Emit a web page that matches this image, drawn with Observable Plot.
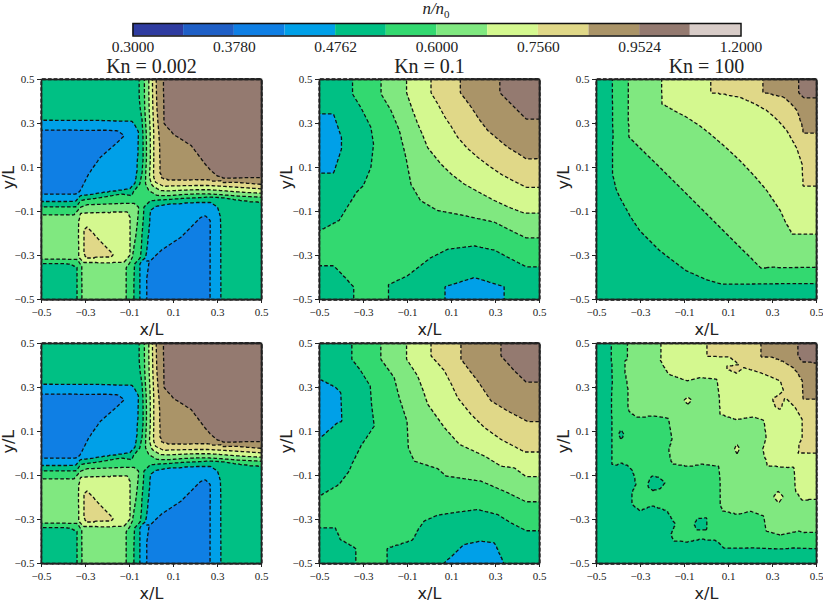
<!DOCTYPE html>
<html>
<head>
<meta charset="utf-8">
<script src="https://cdn.jsdelivr.net/npm/d3@7"></script>
<script src="https://cdn.jsdelivr.net/npm/@observablehq/plot@0.6"></script>
<style>
  body { margin: 0; background: white; }
  #page { position: relative; width: 823px; height: 602px; overflow: hidden; }
  #page svg { position: absolute; overflow: visible; background: none; }
  #cbtitle { position: absolute; left: 386px; width: 100px; top: 0; line-height: 18px; text-align: center;
    font: italic 17px/18px "Liberation Serif", serif; color: #222; z-index: 2; }
  #cbtitle sub { font-size: 11px; font-style: normal; line-height: 0; }
</style>
</head>
<body>
<div id="page"><div id="cbtitle">n/n<sub>0</sub></div></div>
<script>
// contour levels of n/n0 and the colour between each pair of them
const levels = [0.3, 0.3367, 0.378, 0.4243, 0.4762, 0.5345, 0.6, 0.6735, 0.756, 0.8485, 0.9524, 1.069, 1.2]
const bandColors = ['#2f3ca0', '#1f5fc6', '#0f7fe4', '#00a0e8', '#00c084', '#33d970', '#80e880', '#d4f88f', '#e0d888', '#aa9468', '#947a70', '#d8ccc8']
const cbTicks = [0.3, 0.378, 0.4762, 0.6, 0.756, 0.9524, 1.2]
const axisTicks = [-0.5, -0.3, -0.1, 0.1, 0.3, 0.5]

// values: each line is [n, x, y, x, y, ...]
const kn002 = [
  [0.51, -0.5, 0.5, -0.3, 0.42, -0.2, 0.42, -0.1, 0.42], [1.02, 0.5, 0.5, 0.3, 0.3, 0.5, 0.2, 0.15, 0.5, 0.2, 0.35, 0.4, 0.12],
  [0.5, -0.5, -0.5, -0.42, -0.42], [0.505, 0.5, -0.5, 0.4, -0.25, 0.4, -0.12],
  [0.41, -0.42, 0.14, -0.3, 0.2, -0.2, 0.24, 0.15, -0.4, 0.2, -0.3, 0.05, -0.42, -0.42, 0.05, -0.15, 0.24, 0.24, -0.15, -0.36, 0.01, 0, -0.33, 0.23, -0.2, 0.1, -0.27],
  [0.45, -0.09, 0.28, -0.1, 0.03, -0.34, -0.037, 0.02, -0.09, 0.275, -0.085, -0.04, -0.33],
  [0.64, -0.21, -0.5, -0.2, -0.42, -0.4, -0.2, -0.5, -0.2],
  [0.565, -0.042, -0.04],
  [0.4243, -0.5, 0.271, -0.44, 0.271, -0.38, 0.271, -0.32, 0.27, -0.26, 0.27, -0.2, 0.27, -0.156, 0.268, -0.123, 0.245, -0.171, 0.2, -0.232, 0.146, -0.285, 0.07, -0.323, -0.005, -0.338, -0.02, -0.38, -0.023, -0.44, -0.023, -0.5, -0.023],
  [0.4243, -0.024, -0.5, -0.024, -0.42, -0.024, -0.324, 0.041, -0.278, 0.132, -0.218, 0.18, -0.17, 0.223, -0.127, 0.245, -0.119, 0.268, -0.142, 0.268, -0.22, 0.268, -0.3, 0.268, -0.4, 0.268, -0.5],
  [0.4762, -0.5, 0.313, -0.44, 0.313, -0.38, 0.313, -0.32, 0.313, -0.26, 0.313, -0.2, 0.312, -0.14, 0.311, -0.088, 0.309, -0.058, 0.26, -0.06, 0.2, -0.062, 0.14, -0.066, 0.08, -0.074, 0.03, -0.098, 0.003, -0.14, -0.004, -0.2, -0.012, -0.26, -0.021, -0.323, -0.028, -0.345, -0.054, -0.38, -0.055, -0.44, -0.055, -0.5, -0.055],
  [0.4762, -0.053, -0.5, -0.053, -0.42, -0.053, -0.339, -0.027, -0.309, -0.02, -0.26, -0.014, -0.2, -0.009, -0.14, -0.005, -0.096, 0.018, -0.077, 0.08, -0.066, 0.14, -0.062, 0.2, -0.058, 0.268, -0.058, 0.3, -0.08, 0.312, -0.12, 0.314, -0.2, 0.314, -0.3, 0.314, -0.4, 0.314, -0.5],
  [0.5345, -0.0545, 0.5, -0.0545, 0.44, -0.052, 0.38, -0.043, 0.32, -0.039, 0.26, -0.038, 0.2, -0.038, 0.14, -0.042, 0.08, -0.053, 0.026, -0.08, -0.005, -0.14, -0.02, -0.2, -0.031, -0.26, -0.041, -0.323, -0.051, -0.341, -0.078, -0.38, -0.079, -0.44, -0.079, -0.5, -0.079],
  [0.5345, -0.08, -0.5, -0.08, -0.42, -0.077, -0.339, -0.05, -0.309, -0.046, -0.26, -0.043, -0.2, -0.038, -0.14, -0.035, -0.081, -0.005, -0.051, 0.03, -0.048, 0.08, -0.045, 0.14, -0.04, 0.2, -0.038, 0.26, -0.034, 0.32, -0.036, 0.38, -0.045, 0.44, -0.053, 0.5, -0.058],
  [0.5345, -0.5, -0.335, -0.44, -0.335, -0.39, -0.335, -0.345, -0.335, -0.338, -0.354, -0.338, -0.42, -0.338, -0.5],
  [0.6, -0.5, -0.115, -0.44, -0.115, -0.39, -0.115, -0.353, -0.116, -0.323, -0.081, -0.292, -0.069, -0.26, -0.068, -0.2, -0.066, -0.14, -0.064, -0.08, -0.063, -0.058, -0.081, -0.063, -0.14, -0.07, -0.2, -0.08, -0.26, -0.088, -0.309, -0.114, -0.354, -0.114, -0.42, -0.114, -0.5],
  [0.6, -0.032, 0.5, -0.032, 0.44, -0.031, 0.38, -0.028, 0.32, -0.024, 0.26, -0.023, 0.2, -0.023, 0.14, -0.026, 0.08, -0.027, 0.026, -0.012, -0.005, 0.026, -0.027, 0.08, -0.028, 0.14, -0.023, 0.2, -0.02, 0.26, -0.02, 0.32, -0.024, 0.38, -0.029, 0.44, -0.032, 0.5, -0.035],
  [0.6, -0.5, -0.317, -0.44, -0.317, -0.39, -0.317, -0.338, -0.317, -0.318, -0.347, -0.318, -0.42, -0.318, -0.5],
  [0.6735, -0.33, -0.142, -0.323, -0.108, -0.26, -0.105, -0.2, -0.103, -0.14, -0.1, -0.11, -0.099, -0.095, -0.127, -0.097, -0.18, -0.097, -0.24, -0.098, -0.3, -0.126, -0.332, -0.18, -0.332, -0.24, -0.332, -0.308, -0.332, -0.33, -0.309, -0.33, -0.24, -0.33, -0.18],
  [0.6735, -0.012, 0.5, -0.012, 0.44, -0.011, 0.38, -0.008, 0.32, -0.006, 0.26, -0.005, 0.2, -0.005, 0.14, -0.008, 0.08, -0.009, 0.056, 0.003, 0.018, 0.041, -0.005, 0.08, -0.006, 0.14, -0.003, 0.2, -0.001, 0.26, -0.001, 0.32, -0.005, 0.38, -0.01, 0.44, -0.014, 0.5, -0.017],
  [0.756, -0.295, -0.168, -0.25, -0.214, -0.21, -0.256, -0.171, -0.298, -0.186, -0.309, -0.24, -0.311, -0.3, -0.312, -0.31, -0.286, -0.31, -0.24, -0.308, -0.187],
  [0.756, 0.0045, 0.5, 0.005, 0.44, 0.006, 0.38, 0.008, 0.32, 0.01, 0.26, 0.01, 0.2, 0.01, 0.14, 0.009, 0.08, 0.01, 0.056, 0.018, 0.033, 0.056, 0.014, 0.08, 0.016, 0.14, 0.017, 0.2, 0.018, 0.26, 0.018, 0.32, 0.015, 0.38, 0.011, 0.44, 0.007, 0.5, 0.003],
  [0.8485, 0.021, 0.5, 0.022, 0.44, 0.024, 0.38, 0.028, 0.32, 0.033, 0.26, 0.036, 0.2, 0.036, 0.14, 0.036, 0.08, 0.045, 0.05, 0.08, 0.041, 0.14, 0.042, 0.2, 0.044, 0.26, 0.044, 0.32, 0.04, 0.38, 0.033, 0.44, 0.028, 0.5, 0.023],
  [0.9524, 0.053, 0.5, 0.053, 0.44, 0.054, 0.38, 0.056, 0.3, 0.1, 0.25, 0.14, 0.225, 0.18, 0.2, 0.21, 0.16, 0.24, 0.12, 0.27, 0.085, 0.3, 0.06, 0.33, 0.05, 0.38, 0.052, 0.44, 0.053, 0.5, 0.053],
]

const kn01Top = [
  [0.49, -0.5, 0.5, -0.5, 0.42, -0.42, 0.5], [1.02, 0.5, 0.5, 0.41, 0.5, 0.5, 0.41],
  [0.5, -0.5, -0.5, 0.5, -0.5, -0.42, -0.5, -0.5, -0.42, -0.1, -0.5, 0.42, -0.5, -0.5, 0],
  [0.55, -0.26, -0.5, -0.5, -0.26], [0.57, -0.15, -0.15],
  [0.565, -0.285, 0.5, 0.5, -0.285], [0.635, -0.16, 0.5, 0.5, -0.165], [0.715, -0.05, 0.5, 0.5, -0.05], [0.8, 0.07, 0.5, 0.5, 0.075], [0.9, 0.23, 0.5, 0.5, 0.23],
  [0.45, -0.46, 0.2, 0.2, -0.46, -0.5, 0.2, 0.2, -0.5],
  [0.4762, -0.5, 0.344, -0.436, 0.344, -0.4, 0.237, -0.4, 0.184, -0.436, 0.074, -0.5, 0.074],
  [0.4762, 0.07, -0.5, 0.07, -0.442, 0.204, -0.4, 0.34, -0.442, 0.34, -0.5],
  [0.5345, -0.35, 0.5, -0.35, 0.435, -0.31, 0.37, -0.266, 0.283, -0.254, 0.207, -0.266, 0.101, -0.301, 0.017, -0.33, -0.01, -0.365, -0.066, -0.41, -0.14, -0.436, -0.187, -0.47, -0.187, -0.5, -0.187],
  [0.5345, -0.5, -0.347, -0.436, -0.347, -0.39, -0.395, -0.345, -0.442, -0.345, -0.5],
  [0.5345, -0.186, -0.5, -0.186, -0.433, -0.1, -0.392, 0.007, -0.309, 0.083, -0.271, 0.204, -0.256, 0.295, -0.275, 0.37, -0.315, 0.44, -0.351, 0.5, -0.351],
  [0.6, -0.22, 0.5, -0.22, 0.435, -0.175, 0.36, -0.137, 0.27, -0.107, 0.147, -0.084, 0.025, -0.04, -0.05, 0.037, -0.095, 0.158, -0.118, 0.295, -0.148, 0.386, -0.194, 0.44, -0.22, 0.5, -0.22],
  [0.6735, -0.104, 0.5, -0.104, 0.44, -0.08, 0.37, -0.054, 0.3, -0.03, 0.245, -0.008, 0.19, 0.052, 0.116, 0.1, 0.07, 0.158, 0.025, 0.23, -0.015, 0.295, -0.05, 0.36, -0.08, 0.43, -0.107, 0.5, -0.107],
  [0.756, 0.007, 0.5, 0.007, 0.44, 0.04, 0.385, 0.07, 0.33, 0.1, 0.285, 0.128, 0.238, 0.17, 0.19, 0.22, 0.146, 0.27, 0.108, 0.325, 0.07, 0.38, 0.04, 0.44, 0.01, 0.5, 0.01],
  [0.8485, 0.14, 0.5, 0.14, 0.44, 0.165, 0.407, 0.19, 0.374, 0.225, 0.32, 0.265, 0.268, 0.31, 0.23, 0.356, 0.192, 0.4, 0.165, 0.44, 0.139, 0.5, 0.14],
  [0.9524, 0.32, 0.5, 0.32, 0.44, 0.38, 0.38, 0.44, 0.32, 0.5, 0.32],
]

const kn01Bottom = [
  [0.49, -0.5, 0.5, -0.5, 0.42, -0.42, 0.5], [1.02, 0.5, 0.5, 0.41, 0.5, 0.5, 0.41],
  [0.5, -0.5, -0.5, 0.5, -0.5, -0.42, -0.5, -0.5, -0.42, -0.1, -0.5, 0.42, -0.5, -0.5, 0],
  [0.55, -0.26, -0.5, -0.5, -0.26], [0.57, -0.15, -0.15],
  [0.565, -0.285, 0.5, 0.5, -0.285], [0.635, -0.16, 0.5, 0.5, -0.165], [0.715, -0.05, 0.5, 0.5, -0.05], [0.8, 0.07, 0.5, 0.5, 0.075], [0.9, 0.23, 0.5, 0.5, 0.23],
  [0.45, -0.46, 0.2, 0.2, -0.46, -0.5, 0.2, 0.2, -0.5],
  [0.4762, -0.5, 0.338, -0.436, 0.338, -0.426, 0.3, -0.403, 0.277, -0.398, 0.148, -0.418, 0.14, -0.436, 0.069, -0.5, 0.069],
  [0.4762, 0.066, -0.5, 0.066, -0.436, 0.159, -0.413, 0.234, -0.398, 0.295, -0.406, 0.338, -0.439, 0.338, -0.5],
  [0.5345, -0.353, 0.5, -0.353, 0.429, -0.312, 0.376, -0.269, 0.307, -0.263, 0.224, -0.251, 0.125, -0.281, 0.08, -0.312, 0.034, -0.35, -0.042, -0.365, -0.08, -0.41, -0.14, -0.433, -0.193, -0.47, -0.193, -0.5, -0.193],
  [0.5345, -0.5, -0.338, -0.429, -0.338, -0.406, -0.391, -0.335, -0.432, -0.335, -0.5],
  [0.5345, -0.193, -0.5, -0.193, -0.432, -0.077, -0.395, -0.046, -0.338, -0.024, -0.307, 0.037, -0.28, 0.128, -0.266, 0.219, -0.254, 0.31, -0.277, 0.37, -0.315, 0.439, -0.35, 0.5, -0.35],
  [0.6, -0.221, 0.5, -0.221, 0.429, -0.16, 0.345, -0.137, 0.254, -0.102, 0.148, -0.096, 0.027, -0.069, -0.034, 0.037, -0.068, 0.075, -0.102, 0.234, -0.125, 0.356, -0.178, 0.439, -0.219, 0.5, -0.219],
  [0.6735, -0.104, 0.5, -0.104, 0.429, -0.054, 0.353, -0.03, 0.29, -0.008, 0.224, 0.068, 0.118, 0.136, 0.042, 0.25, -0.011, 0.325, -0.057, 0.386, -0.065, 0.439, -0.105, 0.5, -0.105],
  [0.756, 0.007, 0.5, 0.007, 0.444, 0.068, 0.376, 0.1, 0.315, 0.128, 0.254, 0.189, 0.178, 0.25, 0.118, 0.325, 0.064, 0.38, 0.035, 0.432, 0.007, 0.5, 0.007],
  [0.8485, 0.143, 0.5, 0.143, 0.429, 0.18, 0.38, 0.219, 0.33, 0.28, 0.239, 0.356, 0.193, 0.4, 0.17, 0.447, 0.145, 0.5, 0.145],
  [0.9524, 0.325, 0.5, 0.325, 0.444, 0.386, 0.376, 0.439, 0.325, 0.5, 0.325],
]

const kn100Top = [
  [0.5, -0.5, 0.5, -0.5, -0.5, 0.5, -0.5, -0.5, 0, 0, -0.5, -0.46, 0.25, -0.25, -0.5, 0.25, -0.5], [1, 0.5, 0.5],
  [0.565, -0.39, 0.5, 0.5, -0.39], [0.635, -0.28, 0.5, 0.5, -0.28], [0.715, -0.09, 0.5, 0.5, -0.09], [0.8, 0.14, 0.5, 0.5, 0.13], [0.9, 0.34, 0.5, 0.5, 0.33],
  [0.5345, -0.427, 0.5, -0.427, 0.4, -0.427, 0.3, -0.427, 0.2, -0.427, 0.07, -0.41, 0, -0.394, -0.036, -0.35, -0.115, -0.302, -0.187, -0.211, -0.278, -0.15, -0.325, -0.09, -0.37, 0, -0.41, 0.07, -0.43, 0.17, -0.43, 0.28, -0.428, 0.39, -0.427, 0.5, -0.427],
  [0.6, -0.356, 0.5, -0.356, 0.4, -0.356, 0.3, -0.356, 0.24, -0.28, 0.167, -0.211, 0.1, -0.12, 0.01, -0.029, -0.081, 0.04, -0.15, 0.108, -0.218, 0.18, -0.29, 0.245, -0.357, 0.33, -0.356, 0.42, -0.355, 0.5, -0.354],
  [0.6735, -0.204, 0.5, -0.204, 0.44, -0.204, 0.389, -0.15, 0.36, -0.09, 0.329, -0.03, 0.29, 0.017, 0.253, 0.09, 0.19, 0.153, 0.131, 0.22, 0.06, 0.275, -0.005, 0.336, -0.096, 0.36, -0.15, 0.389, -0.203, 0.44, -0.203, 0.5, -0.203],
  [0.756, 0.017, 0.5, 0.017, 0.44, 0.09, 0.43, 0.153, 0.42, 0.22, 0.39, 0.275, 0.359, 0.325, 0.315, 0.366, 0.268, 0.41, 0.19, 0.435, 0.116, 0.437, 0.06, 0.439, 0.014, 0.5, 0.014],
  [0.8485, 0.255, 0.5, 0.255, 0.44, 0.3, 0.43, 0.351, 0.42, 0.385, 0.39, 0.412, 0.359, 0.43, 0.3, 0.439, 0.253, 0.5, 0.253],
  [0.9524, 0.419, 0.5, 0.419, 0.44, 0.442, 0.417, 0.5, 0.417],
]

const kn100Bottom = [
  [0.5, -0.5, 0.5, -0.5, -0.5, 0.5, -0.5, -0.5, 0, 0, -0.5, -0.46, 0.25, -0.25, -0.5, 0.25, -0.5], [1, 0.5, 0.5],
  [0.565, -0.4, 0.5, 0.5, -0.39], [0.635, -0.28, 0.5, 0.5, -0.28], [0.715, -0.1, 0.5, 0.5, -0.1], [0.8, 0.12, 0.5, 0.5, 0.12], [0.9, 0.33, 0.5, 0.5, 0.33],
  [0.5345, -0.432, 0.5, -0.432, 0.414, -0.424, 0.398, -0.428, 0.33, -0.432, 0.254, -0.432, 0.17, -0.432, 0.09, -0.432, 0.02, -0.432, -0.049, -0.409, -0.054, -0.386, -0.045, -0.356, -0.057, -0.337, -0.08, -0.322, -0.14, -0.34, -0.178, -0.34, -0.231, -0.302, -0.262, -0.249, -0.239, -0.181, -0.262, -0.143, -0.322, -0.163, -0.368, -0.15, -0.398, -0.09, -0.403, -0.029, -0.391, 0.047, -0.398, 0.078, -0.432, 0.14, -0.43, 0.214, -0.429, 0.28, -0.431, 0.336, -0.433, 0.397, -0.429, 0.45, -0.431, 0.5, -0.432],
  [0.515, -0.36, -0.09, -0.37, -0.2, -0.19, -0.3, 0.04, -0.42, -0.2, -0.28, -0.3, -0.29],
  // small islands
  [0.5345, -0.398, 0.087, -0.388, 0.107, -0.375, 0.087, -0.388, 0.067],
  [0.525, -0.388, 0.087, -0.23, -0.13, -0.02, -0.32],
  [0.5345, -0.267, -0.14, -0.249, -0.102, -0.237, -0.083, -0.214, -0.11, -0.188, -0.133, -0.211, -0.159, -0.245, -0.168, -0.264, -0.152],
  [0.5345, -0.055, -0.322, -0.04, -0.295, 0.002, -0.292, 0.002, -0.345, -0.044, -0.345],
  [0.6, -0.36, 0.5, -0.36, 0.429, -0.371, 0.421, -0.351, 0.406, -0.371, 0.368, -0.36, 0.3, -0.356, 0.193, -0.318, 0.163, -0.28, 0.165, -0.242, 0.171, -0.2, 0.165, -0.173, 0.16, -0.158, 0.072, -0.173, 0.011, -0.158, -0.049, -0.074, -0.06, -0.014, -0.049, 0.055, -0.057, 0.062, -0.125, 0.062, -0.18, 0.062, -0.231, 0.07, -0.262, 0.138, -0.277, 0.199, -0.262, 0.26, -0.284, 0.271, -0.353, 0.336, -0.371, 0.419, -0.353, 0.442, -0.36, 0.5, -0.359],
  [0.58, -0.2, 0.125, 0.03, -0.09, 0.235, -0.31, -0.19, 0.03, 0.03, -0.2],
  [0.6735, -0.207, 0.5, -0.207, 0.436, -0.214, 0.429, -0.196, 0.398, -0.173, 0.36, -0.09, 0.33, -0.029, 0.345, 0.047, 0.338, 0.058, 0.254, 0.058, 0.215, 0.058, 0.178, 0.1, 0.165, 0.138, 0.151, 0.17, 0.16, 0.214, 0.166, 0.26, 0.151, 0.271, 0.072, 0.255, 0.019, 0.265, -0.02, 0.275, -0.057, 0.32, -0.06, 0.366, -0.064, 0.397, -0.061, 0.4, -0.11, 0.404, -0.171, 0.435, -0.216, 0.47, -0.21, 0.5, -0.209],
  // light green around the pale islands
  [0.64, -0.13, 0.24, -0.085, 0.29, -0.04, 0.24, -0.085, 0.19, 0.1, 0.02, 0.138, 0.075, 0.18, 0.02, 0.138, -0.035, 0.27, -0.2, 0.326, -0.14, 0.375, -0.2, 0.326, -0.26],
  [0.64, -0.17, 0.32, -0.03, 0.31, 0.02, 0.31, 0.03, 0.25, 0.03, 0.17, 0.08, 0.14, 0.14, 0.12, 0.2, 0.13, 0.24, 0.12, 0.24, 0.07, 0.23, 0.02, 0.24, -0.04, 0.26, -0.09, 0.32, -0.09, 0.37, -0.09, 0.375, -0.15, 0.41, -0.23, 0.47, -0.24, 0.05, 0.07, 0.05, -0.02, 0.15, -0.1, 0.2, -0.2],
  [0.6735, -0.102, 0.242, -0.085, 0.257, -0.067, 0.242, -0.085, 0.224],
  [0.6735, 0.128, 0.022, 0.138, 0.042, 0.15, 0.022, 0.138, -0.001],
  [0.6735, 0.305, -0.196, 0.325, -0.172, 0.348, -0.196, 0.328, -0.225],
  [0.7, -0.085, 0.24, 0.138, 0.02, 0.326, -0.197],
  [0.73, 0.29, 0.3, 0.27, 0.22, 0.14, 0.33, 0.1, 0.42, 0.2, 0.34, 0.39, 0.12, 0.37, 0.19, 0.36, 0.04, 0.2, 0.25, 0.05, 0.4],
  [0.756, 0.002, 0.5, 0.002, 0.439, 0.05, 0.439, 0.1, 0.439, 0.161, 0.439, 0.146, 0.406, 0.093, 0.398, 0.093, 0.383, 0.138, 0.363, 0.169, 0.391, 0.245, 0.368, 0.29, 0.35, 0.336, 0.33, 0.351, 0.285, 0.298, 0.247, 0.313, 0.209, 0.336, 0.198, 0.359, 0.254, 0.404, 0.209, 0.435, 0.156, 0.435, 0.072, 0.419, 0.042, 0.416, 0.001, 0.46, 0.001, 0.5, 0.001],
  [0.8485, 0.245, 0.5, 0.245, 0.439, 0.3, 0.436, 0.348, 0.433, 0.354, 0.414, 0.395, 0.39, 0.435, 0.368, 0.435, 0.33, 0.439, 0.247, 0.5, 0.247],
  [0.9524, 0.412, 0.5, 0.412, 0.444, 0.439, 0.436, 0.439, 0.414, 0.5, 0.41],
]

const panels = [
  {lines: kn002, title: 'Kn = 0.002', left: 41, top: 79},
  {lines: kn01Top, title: 'Kn = 0.1', left: 318.5, top: 79},
  {lines: kn100Top, title: 'Kn = 100', left: 596, top: 79},
  {lines: kn002, left: 41, top: 342.5},
  {lines: kn01Bottom, left: 318.5, top: 342.5},
  {lines: kn100Bottom, left: 596, top: 342.5},
]

const thresholds = levels.slice(0, 12).map(d => d - 1e-4)
const toPoints = lines => lines.flatMap(([n, ...c]) => d3.range(0, c.length, 2).map(i => ({x: c[i], y: c[i + 1], n})))
const fmt = d => d.toFixed(1).replace('-', '\u2212')
const serif = '"Liberation Serif", serif'
const page = d3.select('#page')

panels.forEach(p => {
  const mt = 28, ml = 41
  const chart = Plot.plot({
    width: 220 + ml + 6,
    height: 220 + mt + 36,
    marginLeft: ml, marginRight: 6, marginTop: mt, marginBottom: 36,
    x: {domain: [-0.5, 0.5], axis: null},
    y: {domain: [-0.5, 0.5], axis: null},
    color: {type: 'threshold', domain: thresholds.slice(1), range: bandColors},
    style: {background: 'none', color: '#222'},
    marks: [
      Plot.contour(toPoints(p.lines), {
        x: 'x', y: 'y', value: 'n', fill: 'value',
        interpolate: 'barycentric', pixelSize: 1, thresholds,
        stroke: '#111', strokeWidth: 1.3, strokeDasharray: '3.6,2.2',
      }),
      Plot.frame({stroke: '#222', strokeWidth: 1.6}),
      Plot.axisX({ticks: axisTicks, tickFormat: fmt, tickSize: 4, tickPadding: 5, fontSize: 11, fontFamily: serif, label: null}),
      Plot.axisY({ticks: axisTicks, tickFormat: fmt, tickSize: 4, tickPadding: 3, fontSize: 11, fontFamily: serif, label: null}),
      Plot.text(['x/L'], {frameAnchor: 'bottom', dy: 35, fontSize: 16, fontFamily: '"DejaVu Sans"', fill: '#222'}),
      Plot.text(['y/L'], {frameAnchor: 'left', dx: -33, rotate: -90, fontSize: 16, fontFamily: '"DejaVu Sans"', fill: '#222'}),
      p.title ? Plot.text([p.title], {frameAnchor: 'top', dy: -21, fontSize: 20, fontFamily: serif, fill: '#222'}) : null,
    ],
  })
  page.append(() => chart).style('left', (p.left - ml) + 'px').style('top', (p.top - mt) + 'px')
})

// colour bar, log spaced like the levels
const colorbar = Plot.plot({
  width: 823, height: 60,
  marginLeft: 132.5, marginRight: 82.5, marginTop: 23, marginBottom: 24.5,
  x: {type: 'log', domain: [0.3, 1.2], axis: null},
  y: {domain: [0, 1], axis: null},
  style: {background: 'none', color: '#222'},
  marks: [
    Plot.rect(bandColors, {x1: (d, i) => levels[i], x2: (d, i) => levels[i + 1], y1: 0, y2: 1, fill: d => d}),
    Plot.frame({stroke: '#111', strokeWidth: 1.5}),
    Plot.axisX({ticks: cbTicks, tickFormat: d => d.toFixed(4), tickSize: 0, tickPadding: 5, fontSize: 15.5, fontFamily: serif, label: null}),
  ],
})
page.append(() => colorbar).style('left', '0px').style('top', '0px')
</script>
</body>
</html>
